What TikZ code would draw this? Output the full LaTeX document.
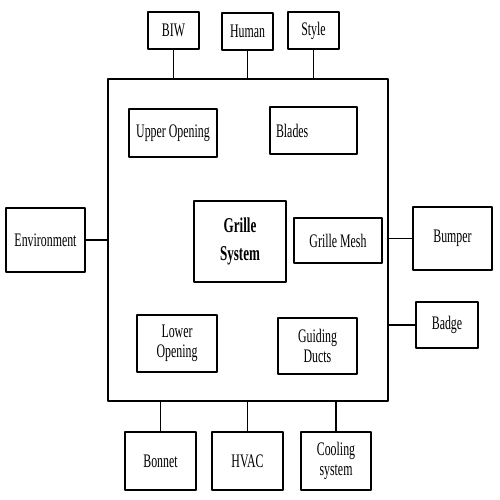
\documentclass[tikz,border=0pt]{standalone}
\usepackage{fontspec}
\setmainfont{Liberation Serif}[FakeStretch=0.62]
\usepackage{tikz}
\tikzset{
  every picture/.style={line join=round, line cap=round},
  box/.style={draw, line width=1.3pt, inner sep=1pt, align=center,
    font=\fontsize{10.9}{11.4}\selectfont},
  link/.style={line width=0.6pt},
}

\begin{document}
\begin{tikzpicture}
\useasboundingbox (0,0) rectangle (10,10);
% main frame
\node[draw, line width=1.4pt, minimum width=5.6cm, minimum height=6.44cm] (frame) at (4.96,5.2) {};
% parts inside the frame
\node[box, minimum width=1.76cm, minimum height=0.96cm] (upper) at (3.46,7.34) {Upper Opening};
\node[box, minimum width=1.74cm, minimum height=0.94cm, text width=1.5cm, align=left] (blades) at (6.27,7.39) {Blades};
\node[box, minimum width=1.84cm, minimum height=1.62cm, font=\fontsize{12}{16}\selectfont\bfseries] (grille) at (4.8,5.17) {Grille\\System};
\node[box, minimum width=1.76cm, minimum height=0.9cm] (mesh) at (6.76,5.19) {Grille Mesh};
\node[box, minimum width=1.6cm, minimum height=1.14cm] (lower) at (3.54,3.13) {Lower\\Opening};
\node[box, minimum width=1.58cm, minimum height=1.12cm] (ducts) at (6.35,3.08) {Guiding\\Ducts};
% interfaces on top
\node[box, minimum width=1.02cm, minimum height=0.74cm] (biw) at (3.47,9.39) {BIW};
\node[box, minimum width=1.02cm, minimum height=0.74cm] (human) at (4.95,9.37) {Human};
\node[box, minimum width=1.02cm, minimum height=0.74cm] (style) at (6.27,9.39) {Style};
% interfaces left and right
\node[box, minimum width=1.58cm, minimum height=1.28cm] (env) at (0.91,5.2) {Environment};
\node[box, minimum width=1.58cm, minimum height=1.26cm] (bumper) at (9.05,5.23) {Bumper};
\node[box, minimum width=1.24cm, minimum height=0.92cm] (badge) at (8.94,3.5) {Badge};
% interfaces below
\node[box, minimum width=1.42cm, minimum height=1.16cm] (bonnet) at (3.21,0.78) {Bonnet};
\node[box, minimum width=1.42cm, minimum height=1.16cm] (hvac) at (4.95,0.78) {HVAC};
\node[box, minimum width=1.40cm, minimum height=1.16cm] (cooling) at (6.72,0.78) {Cooling\\system};
% links to the frame
\draw[link] (biw) -- (biw |- frame.north)
(human) -- (human |- frame.north)
(style) -- (style |- frame.north)
(env) -- (env -| frame.west)
(bumper) -- (bumper -| frame.east)
(badge) -- (badge -| frame.east)
(bonnet) -- (bonnet |- frame.south)
(hvac) -- (hvac |- frame.south)
(cooling) -- (cooling |- frame.south);
\end{tikzpicture}
\end{document}
